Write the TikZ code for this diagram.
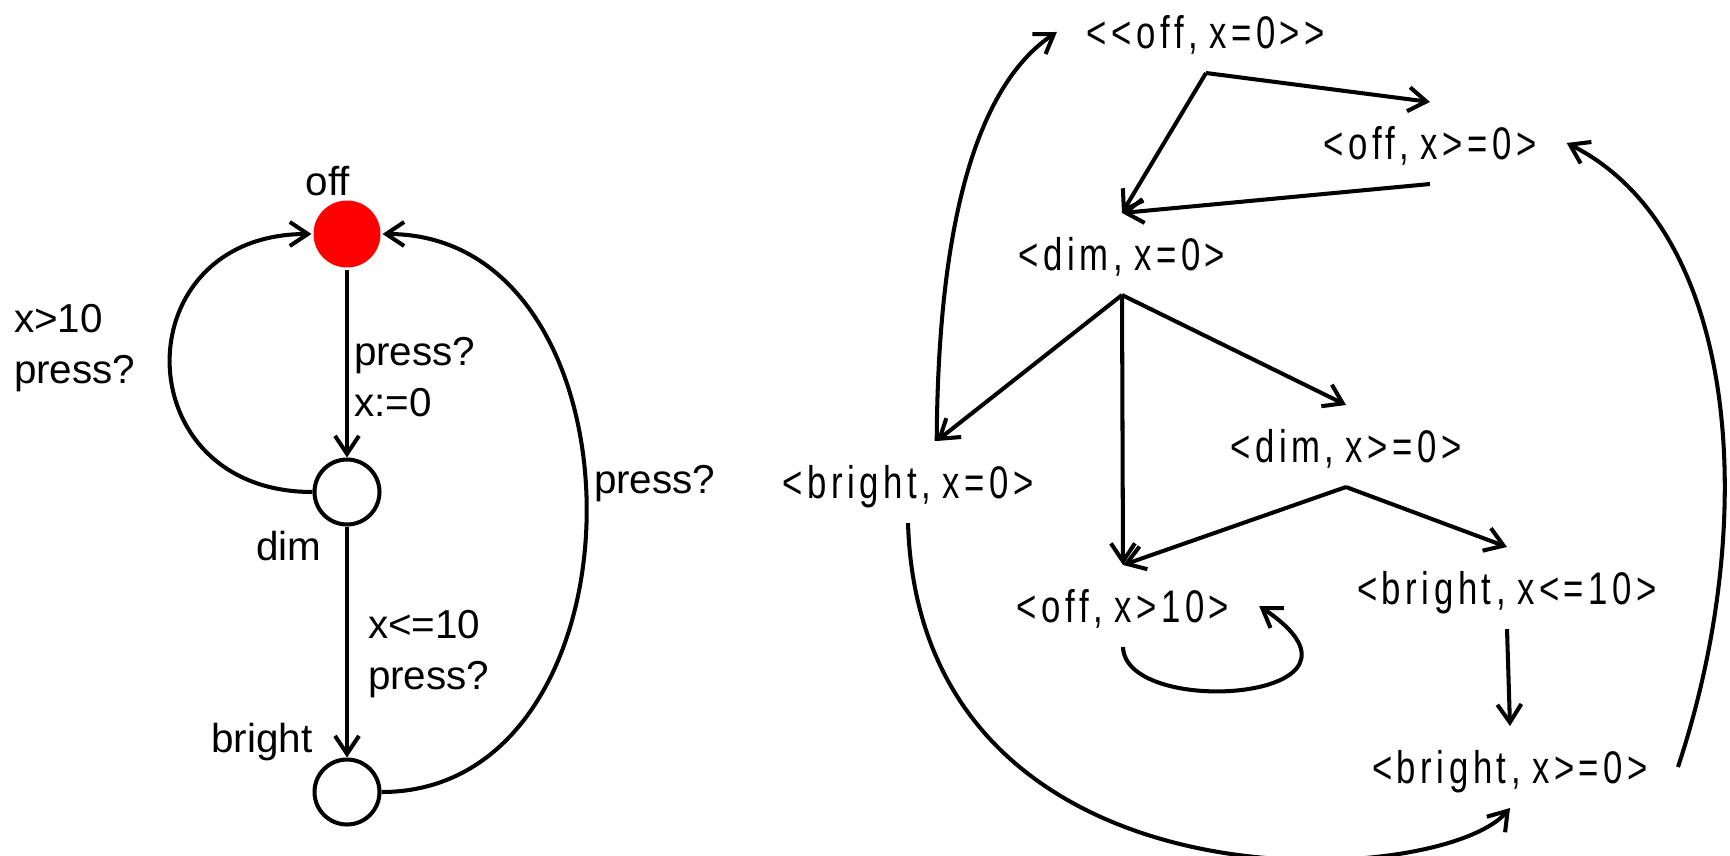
\documentclass[tikz,border=0pt]{standalone}
\usepackage{fontspec}
\setmainfont{Liberation Sans}
\newfontfamily\narrowfont[FakeStretch=0.76,LetterSpace=10,WordSpace=0.8]{Liberation Sans}
\usetikzlibrary{arrows.meta}
\begin{document}
\begin{tikzpicture}[x=0.02cm,y=0.02cm,line width=2.3pt,
  arr/.style={-{Straight Barb[length=0.36cm,width=0.48cm]}},
  loc/.style={circle,draw,line width=2.3pt,fill=white,minimum size=1.3cm,inner sep=0pt},
  init/.style={circle,fill=red,minimum size=1.34cm,inner sep=0pt},
  lbl/.style={font=\fontsize{23}{28.5}\selectfont,inner sep=0pt},
  st/.style={font=\narrowfont\fontsize{26}{30}\selectfont,text height=0.65cm,text depth=0pt,
    minimum height=1.56cm,inner ysep=0pt,inner xsep=0.56cm}]
\useasboundingbox (0,0) rectangle (1730,-855);

% left automaton
\node[init] (off) at (347,-234) {};
\node[loc] (dim) at (347,-492) {};
\node[loc] (bright) at (347,-792) {};
\draw[arr] (off) -- (dim);
\draw[arr] (dim) -- (bright);
\draw[arr] (dim.west) to[out=180,in=180,looseness=1.87] (off.west);
\draw[arr] (bright.east) to[out=0,in=0,looseness=1.245] (off.east);

\node[lbl,anchor=base] (offl) at (328,-195) {off};
\node[lbl,anchor=base] (diml) at (289,-560) {dim};
\node[lbl,anchor=base] (brightl) at (262,-752) {bright};
\node[lbl,anchor=base west,align=left] (e1) at (352,-416) {press?\\x:=0};
\node[lbl,anchor=base west,align=left] (e2) at (12,-383) {x>10\\press?};
\node[lbl,anchor=base west,align=left] (e3) at (366,-689) {x<=10\\press?};
\node[lbl,anchor=base west] (e4) at (592,-493) {press?};

% right graph
\node[st] (A) at (1206,-32) {<<off, x=0>>};
\node[st] (B) at (1430,-143) {<off, x>=0>};
\node[st] (C) at (1122,-254) {<dim, x=0>};
\node[st] (D) at (908,-482) {<bright, x=0>};
\node[st] (E) at (1346,-446) {<dim, x>=0>};
\node[st] (F) at (1123,-606) {<off, x>10>};
\node[st] (G) at (1507,-588) {<bright, x<=10>};
\node[st] (H) at (1510,-767) {<bright, x>=0>};

\draw[arr] (A.south) -- (B.north);
\draw[arr] (A.south) -- (C.north);
\draw[arr] (B.south) -- (C.north);
\draw[arr] (C.south) -- (D.55);
\draw[arr] (C.south) -- (F.north);
\draw[arr] (C.south) -- (E.north);
\draw[arr] (E.south) -- (F.north);
\draw[arr] (E.south) -- (G.north);
\draw[arr] (G.south) -- (H.north);
\draw[arr] (F.south) .. controls (1125,-720) and (1400,-700) .. (F.east);
\draw[arr] (D.south) .. controls (920,-920) and (1440,-890) .. (H.south);
\draw[arr] (H.east) .. controls (1760,-520) and (1740,-230) .. (B.east);
\draw[arr] (D.55) .. controls (938,-200) and (985,-80) .. (A.west);
\end{tikzpicture}
\end{document}
